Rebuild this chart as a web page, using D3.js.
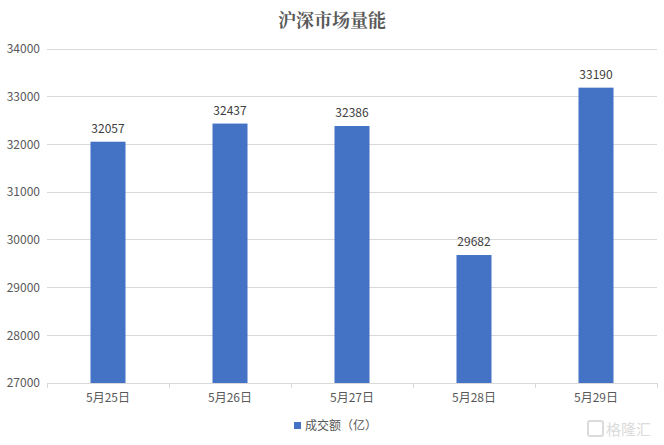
<!DOCTYPE html>
<html><head><meta charset="utf-8">
<script src="https://cdn.jsdelivr.net/npm/d3@7/dist/d3.min.js"></script>
<style>body{margin:0;background:#fff;}svg{display:block;}</style>
</head><body>
<script>
const categories = ["5月25日","5月26日","5月27日","5月28日","5月29日"];
const values = [32057, 32437, 32386, 29682, 33190];
const yTicks = [27000,28000,29000,30000,31000,32000,33000,34000];
const title = "沪深市场量能";
const seriesName = "成交额（亿）";

const W = 664, H = 445;
const svg = d3.select("body").append("svg").attr("width", W).attr("height", H);
const font = "'Microsoft YaHei','Noto Sans CJK SC','Noto Sans',sans-serif";

const x = d3.scaleBand().domain(categories).range([47, 657]).paddingInner(0.713).paddingOuter(0.3565);
const xb = d3.scaleBand().domain(categories).range([47, 657]);
const y = d3.scaleLinear().domain([27000, 34000]).range([383, 49]);

// gridlines
svg.append("g").selectAll("line").data(yTicks.slice(1)).join("line")
  .attr("x1", 47).attr("x2", 657).attr("y1", d => y(d)).attr("y2", d => y(d))
  .attr("stroke", "#d9d9d9").attr("stroke-width", 1).attr("shape-rendering","crispEdges");

// y axis labels
const yAxis = d3.axisLeft(y).tickValues(yTicks).tickSize(0).tickPadding(7).tickFormat(d3.format("d"));
const yg = svg.append("g").attr("transform", "translate(47,0)").call(yAxis);
yg.select(".domain").remove();
yg.selectAll("text").attr("font-family", font).attr("font-size", 12).attr("fill", "#595959");

// bars
svg.append("g").selectAll("rect").data(values).join("rect")
  .attr("x", (d,i) => x(categories[i])).attr("width", x.bandwidth())
  .attr("y", d => y(d)).attr("height", d => y(27000) - y(d))
  .attr("fill", "#4472C4");

// data labels
svg.append("g").selectAll("text").data(values).join("text")
  .attr("x", (d,i) => x(categories[i]) + x.bandwidth()/2).attr("y", d => y(d) - 9)
  .attr("text-anchor","middle").attr("font-family", font).attr("font-size", 12).attr("fill","#404040")
  .text(d => d);

// x axis
const xg = svg.append("g").attr("transform", "translate(0,383)");
xg.append("line").attr("x1",47).attr("x2",657).attr("y1",0.5).attr("y2",0.5).attr("stroke","#d9d9d9");
const bounds = categories.map(c => xb(c)).concat([657]);
xg.selectAll("line.tk").data(bounds).join("line").attr("class","tk")
  .attr("x1", d => Math.round(d)+0.5).attr("x2", d => Math.round(d)+0.5).attr("y1",0).attr("y2",5).attr("stroke","#d9d9d9");
xg.selectAll("text").data(categories).join("text")
  .attr("x", d => xb(d) + xb.bandwidth()/2).attr("y", 19)
  .attr("text-anchor","middle").attr("font-family", font).attr("font-size", 12).attr("fill","#595959")
  .text(d => d);

// title
svg.append("text").attr("x", 332).attr("y", 27).attr("text-anchor","middle")
  .attr("font-family", "'Noto Serif CJK SC','Noto Sans CJK SC',serif").attr("font-weight","bold")
  .attr("font-size", 18).attr("fill","#595959").text(title);

// legend
svg.append("rect").attr("x", 294).attr("y", 422).attr("width", 7).attr("height", 7).attr("fill","#4472C4");
svg.append("text").attr("x", 305).attr("y", 430).attr("font-family", font).attr("font-size", 12).attr("fill","#595959").text(seriesName);

// watermark
const wm = svg.append("g").attr("opacity", 0.35);
wm.append("rect").attr("x", 588).attr("y", 421).attr("width", 15).attr("height", 15).attr("rx",2).attr("fill","none").attr("stroke","#999").attr("stroke-width",2);
wm.append("text").attr("x", 606).attr("y", 435).attr("font-family", font).attr("font-size", 15).attr("fill","#999").text("格隆汇");
</script>
</body></html>
